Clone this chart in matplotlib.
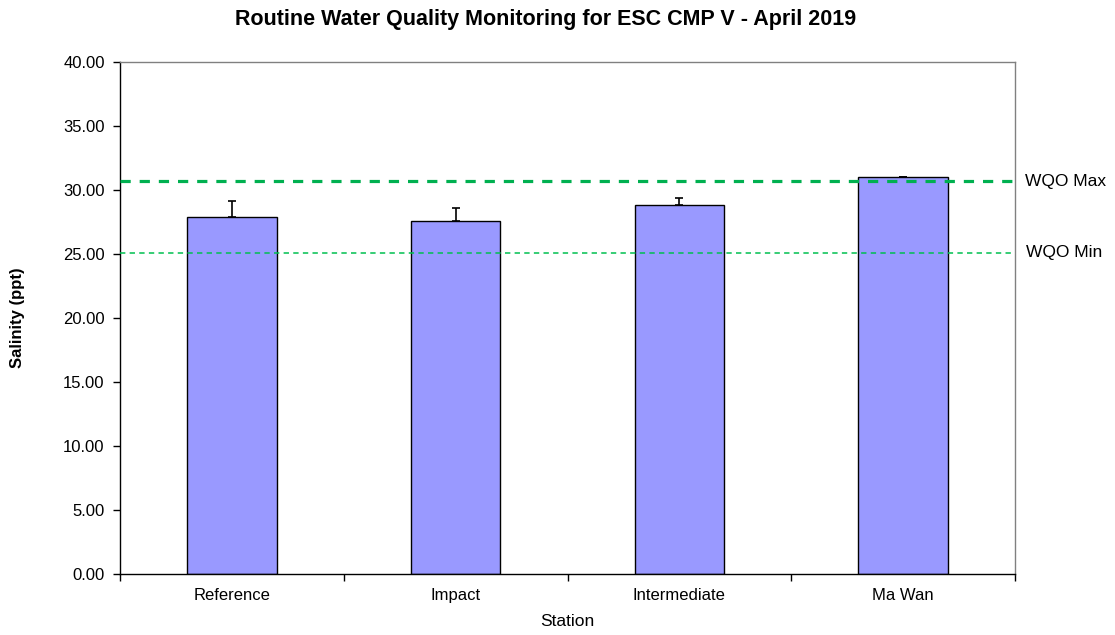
import matplotlib
matplotlib.use("Agg")
import matplotlib.pyplot as plt
import numpy as np

stations = ["Reference", "Impact", "Intermediate", "Ma Wan"]
salinity = [27.9, 27.6, 28.8, 31.0]
errors = [1.25, 1.0, 0.55, 0.05]
wqo_max = 30.7
wqo_min = 25.1
yticks = [0, 5, 10, 15, 20, 25, 30, 35, 40]

plt.rcParams['font.family'] = ['Liberation Sans', 'DejaVu Sans']

fig = plt.figure(figsize=(11.15, 6.35), dpi=100)
ax = fig.add_axes([120/1115, 1-574/635, 895/1115, 512/635])

x = np.arange(len(stations))
ax.bar(x, salinity, width=0.4, color='#9999FF', edgecolor='black', linewidth=1.0, zorder=2)
ax.errorbar(x, salinity, yerr=[np.zeros(len(errors)), errors], fmt='none',
            ecolor='black', elinewidth=1.2, capsize=2.6, capthick=1.2, zorder=3)

ax.axhline(wqo_max, color='#00B050', linewidth=2.3, dashes=(3.2, 2.8), zorder=4)
ax.axhline(wqo_min, color='#00C050', linewidth=1.1, dashes=(3.5, 2.8), zorder=4)

ax.set_xlim(-0.5, len(stations) - 0.5)
ax.set_ylim(0, 40)
ax.set_yticks(yticks)
ax.set_yticklabels([f"{v:.2f}" for v in yticks], fontsize=12)
ax.set_xticks(x)
ax.set_xticklabels(stations, fontsize=12)
ax.tick_params(axis='x', length=0, pad=10)
ax.set_xticks(np.arange(-0.5, len(stations)), minor=True)
ax.tick_params(axis='x', which='minor', length=5, direction='out', width=1)
ax.tick_params(axis='y', length=5, direction='out', width=1, pad=6)

for s in ['top', 'right']:
    ax.spines[s].set_color('#808080')
    ax.spines[s].set_linewidth(1.0)
for s in ['left', 'bottom']:
    ax.spines[s].set_color('black')
    ax.spines[s].set_linewidth(1.0)

ax.text(1.011, wqo_max, "WQO Max", transform=ax.get_yaxis_transform(), va='center', ha='left', fontsize=12.5)
ax.text(1.012, wqo_min, "WQO Min", transform=ax.get_yaxis_transform(), va='center', ha='left', fontsize=12.5)

fig.text(546/1115, 1-20/635, "Routine Water Quality Monitoring for ESC CMP V - April 2019",
         ha='center', va='center', fontsize=15.5, fontweight='bold')
ax.set_ylabel("Salinity (ppt)", fontsize=12, fontweight='bold')
ax.yaxis.set_label_coords((18-120)/895, 0.5)
ax.set_xlabel("Station", fontsize=12.5)
ax.xaxis.set_label_coords(0.5, (574-622)/512)
ax.xaxis.label.set_va('center')
ax.yaxis.label.set_va('center')

fig.savefig("out.png", dpi=100)
